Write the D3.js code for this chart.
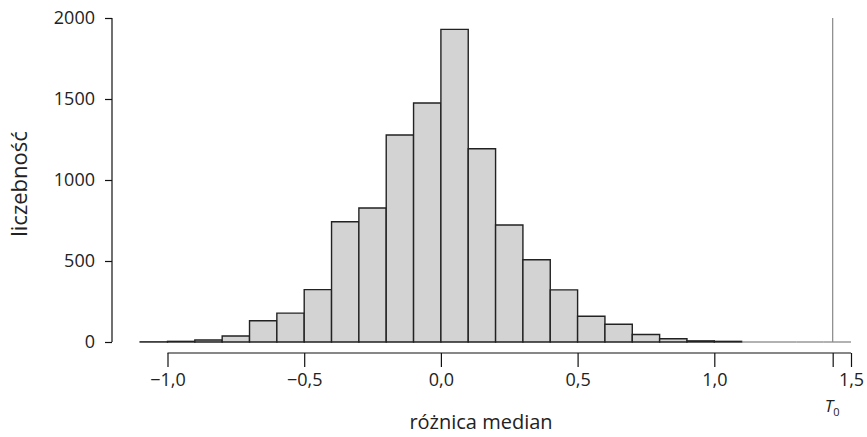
<!DOCTYPE html>
<html>
<head>
<meta charset="utf-8">
<script src="https://cdn.jsdelivr.net/npm/d3@7"></script>
<style>
  body { margin: 0; background: #fff; }
  svg text { font-family: "Open Sans", "Noto Sans", sans-serif; fill: #222; }
</style>
</head>
<body>
<div id="graph-container"></div>
<script>
// histogram bins (left edges) and counts
const binStarts = [-1.1, -1.0, -0.9, -0.8, -0.7, -0.6, -0.5, -0.4, -0.3, -0.2, -0.1, 0.0,
                   0.1, 0.2, 0.3, 0.4, 0.5, 0.6, 0.7, 0.8, 0.9, 1.0, 1.1, 1.2, 1.3, 1.4];
const counts = [1, 4, 12, 37, 131, 178, 323, 742, 827, 1278, 1475, 1930,
                1193, 722, 508, 322, 159, 110, 46, 20, 7, 4, 0, 0, 0, 0];
const binWidth = 0.1;
const T0 = 1.433;

const xTicks = [-1.0, -0.5, 0.0, 0.5, 1.0, 1.5];
const yTicks = [0, 500, 1000, 1500, 2000];

const width = 867, height = 437;

const xScale = d3.scaleLinear()
    .domain([-1.0, 1.5])
    .range([167.5, 851]);

const yScale = d3.scaleLinear()
    .domain([0, 2000])
    .range([342, 18]);

const svg = d3.select("#graph-container")
    .append("svg")
    .attr("width", width)
    .attr("height", height);

const data = binStarts.map((b, i) => ({ x0: b, x1: b + binWidth, n: counts[i] }));

// bars drawn as closed paths so empty bins still show as a line
svg.append("g")
    .selectAll("path")
    .data(data)
    .join("path")
    .attr("d", d => {
        const x0 = xScale(d.x0), x1 = xScale(d.x1), y0 = yScale(0), y1 = yScale(d.n);
        return `M${x0},${y0}V${y1}H${x1}V${y0}Z`;
    })
    .attr("fill", "#d3d3d3")
    .attr("stroke", d => d.n > 0 ? "#222" : "#666")
    .attr("stroke-width", d => d.n > 0 ? 1.4 : 1.2);

// observed statistic line
svg.append("line")
    .attr("x1", xScale(T0)).attr("x2", xScale(T0))
    .attr("y1", yScale(2000)).attr("y2", yScale(0))
    .attr("stroke", "#888")
    .attr("stroke-width", 1.2);

// x axis
const xAxis = d3.axisBottom(xScale)
    .tickValues(xTicks.concat([T0]))
    .tickSize(14)
    .tickPadding(4)
    .tickFormat(d => d === T0 ? "" : d3.format(".1f")(d).replace("-", "\u2013").replace(".", ","));

const gx = svg.append("g")
    .attr("transform", "translate(0,353)")
    .call(xAxis);
gx.select(".domain").attr("d", `M${xScale(-1.0)},0H${xScale(1.5)}`);
gx.selectAll("line, path").attr("stroke", "#111").attr("stroke-width", 1.2);
gx.selectAll("text").attr("font-size", 18).attr("dy", "0.85em");

// y axis
const yAxis = d3.axisLeft(yScale)
    .tickValues(yTicks)
    .tickSize(7)
    .tickPadding(10)
    .tickFormat(d3.format("d"));

const gy = svg.append("g")
    .attr("transform", "translate(112,0)")
    .call(yAxis);
gy.select(".domain").attr("d", `M0,${yScale(0)}V${yScale(2000)}`);
gy.selectAll("line, path").attr("stroke", "#111").attr("stroke-width", 1.2);
gy.selectAll("text").attr("font-size", 18);

// labels
svg.append("text")
    .attr("x", 481).attr("y", 429)
    .attr("text-anchor", "middle")
    .attr("font-size", 20)
    .text("różnica median");

svg.append("text")
    .attr("transform", "translate(27,184) rotate(-90)")
    .attr("text-anchor", "middle")
    .attr("font-size", 22)
    .text("liczebność");

const t0 = svg.append("text")
    .attr("x", xScale(T0) - 8).attr("y", 412)
    .attr("font-size", 17);
t0.append("tspan").attr("font-style", "italic").text("T");
t0.append("tspan").attr("font-size", 11).attr("dy", 4).text("0");
</script>
</body>
</html>
